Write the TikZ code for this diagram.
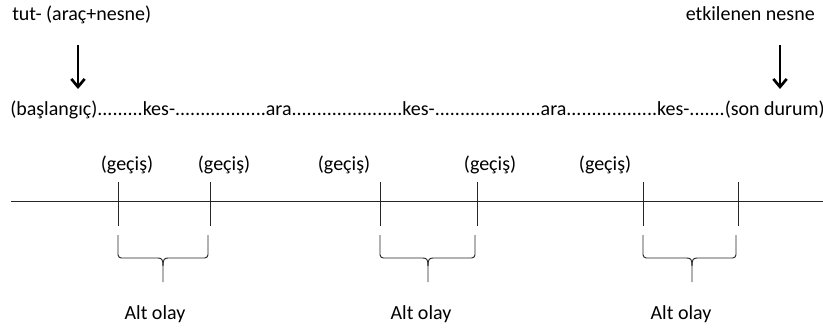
\documentclass[tikz,border=0pt]{standalone}
\usepackage{fontspec}
\setmainfont{Carlito}
\usetikzlibrary{arrows.meta}
\begin{document}
\fontsize{15}{18}\selectfont
\begin{tikzpicture}[x=0.75pt,y=-0.75pt,
		every node/.style={inner sep=0pt,anchor=base},
		pil/.style={line width=2pt,-{Straight Barb[length=6pt,width=10pt]}},
		cizgi/.style={line width=0.7pt,black!85},
		ayrac/.style={cizgi,rounded corners=2.5pt}]
		\useasboundingbox (0,0) rectangle (823,329);
		% ust metinler
		\node[anchor=base west] (arac) at (12,20) {tut- (araç+nesne)};
		\node[anchor=base east] (nesne) at (815,20) {etkilenen nesne};
		\node[anchor=base west] (olay) at (10,115) {(başlangıç).........kes-..................ara......................kes-.....................ara..................kes-.......(son durum)};
		\coordinate (p1) at (78,45);
		\coordinate (q1) at (78,89);
		\coordinate (p2) at (780,45);
		\coordinate (q2) at (780,89);
		\draw[pil] (p1) -- (q1);
		\draw[pil] (p2) -- (q2);
		% zaman cizgisi
		\coordinate (bas) at (11,201);
		\coordinate (son) at (823,201);
		\draw[cizgi] (bas) -- (son);
		\foreach \x in {118,210,380,477,643,738}
			\draw[cizgi] (\x,182) -- (\x,226);
		\foreach \x [count=\i] in {127,224,344,490,605}
			\node (gecis\i) at (\x,170) {(geçiş)};
		% alt olaylar
		\foreach \a/\b/\m/\t [count=\i] in {118/208/163/155,380/475/428/421,643/736/692/681} {
			\draw[ayrac] (\a,235) -- (\a,258) -- (\m-5,258);
			\draw[ayrac] (\b,235) -- (\b,258) -- (\m+5,258);
			\draw[cizgi] (\m-5,258) .. controls (\m-1,258) and (\m,260) .. (\m,266) -- (\m,282);
			\draw[cizgi] (\m+5,258) .. controls (\m+1,258) and (\m,260) .. (\m,266);
			\node (alt\i) at (\t,319) {Alt olay};
		}
	\end{tikzpicture}
\end{document}
